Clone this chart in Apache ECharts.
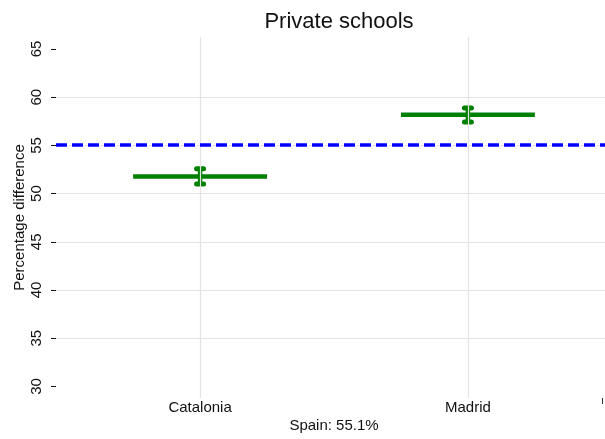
<!DOCTYPE html>
<html>
<head>
<meta charset="utf-8">
<script src="https://cdn.jsdelivr.net/npm/echarts@6/dist/echarts.min.js"></script>
<style>
  html, body { margin: 0; padding: 0; background: #ffffff; }
  #chart { width: 605px; height: 439px; }
</style>
</head>
<body>
<div id="chart"></div>
<script>
// Regions and their estimated share (point estimate with confidence bounds)
const regions = ['Catalonia', 'Madrid'];
const means = [51.78, 58.18];
const lower = [51.0, 57.43];
const upper = [52.58, 58.88];

// National reference value
const spainValue = 55.1;

// Axis ticks and grid lines
const yTicks = [30, 35, 40, 45, 50, 55, 60, 65];
const yGridLines = [35, 40, 45, 50, 55, 60];
const xPositions = [1, 2];
const xExtraTicks = [2.5];

const FONT = '"Liberation Sans", Arial, Helvetica, sans-serif';
const GREEN = '#008000';
const HALF_WIDTH = 0.25;

const ciData = regions.map((r, i) => [xPositions[i], means[i], lower[i], upper[i]]);

const chart = echarts.init(document.getElementById('chart'), null, { renderer: 'canvas' });

chart.setOption({
  animation: false,
  backgroundColor: '#ffffff',
  textStyle: { fontFamily: FONT },
  title: {
    text: 'Private schools',
    left: 334,
    textAlign: 'center',
    top: 6,
    textStyle: { fontFamily: FONT, fontSize: 22, fontWeight: 'normal', color: '#111' }
  },
  grid: { left: 56, top: 37, width: 556, height: 361, outerBoundsMode: 'none', containLabel: false },
  xAxis: {
    type: 'value',
    min: 0.462,
    max: 2.538,
    name: 'Spain: ' + spainValue + '%',
    nameLocation: 'middle',
    nameGap: 20,
    nameMoveOverlap: false,
    nameTextStyle: { fontFamily: FONT, fontSize: 15, color: '#111' },
    axisLine: { show: false },
    splitLine: { show: false },
    axisTick: {
      show: true,
      customValues: xExtraTicks,
      length: 6,
      lineStyle: { color: '#333', width: 1 }
    },
    axisLabel: {
      customValues: xPositions,
      formatter: (v) => regions[xPositions.indexOf(v)] || '',
      fontFamily: FONT,
      fontSize: 15,
      color: '#111',
      margin: 2
    }
  },
  yAxis: {
    type: 'value',
    min: 28.8,
    max: 66.24,
    name: 'Percentage difference',
    nameLocation: 'middle',
    nameGap: 29,
    nameMoveOverlap: false,
    nameTextStyle: { fontFamily: FONT, fontSize: 15, color: '#111' },
    axisLine: { show: false },
    splitLine: { show: false },
    axisTick: {
      show: true,
      customValues: yTicks,
      length: 5,
      lineStyle: { color: '#111', width: 1 }
    },
    axisLabel: {
      customValues: yTicks,
      rotate: 90,
      fontFamily: FONT,
      fontSize: 15,
      color: '#111',
      margin: 12
    }
  },
  series: [
    {
      // background grid lines
      type: 'line',
      data: [],
      silent: true,
      z: 1,
      markLine: {
        silent: true,
        symbol: 'none',
        label: { show: false },
        animation: false,
        lineStyle: { color: '#e3e3e3', width: 1.2, type: 'solid' },
        data: yGridLines.map(v => ({ yAxis: v }))
          .concat(xPositions.map(v => ({ xAxis: v })))
      }
    },
    {
      // national reference line
      type: 'line',
      data: [],
      silent: true,
      z: 2,
      markLine: {
        silent: true,
        symbol: 'none',
        label: { show: false },
        animation: false,
        lineStyle: { color: '#0000ff', width: 3.5, type: [11, 5] },
        data: [{ yAxis: spainValue }]
      }
    },
    {
      type: 'custom',
      z: 3,
      data: ciData,
      renderItem: function (params, api) {
        const x = api.value(0), m = api.value(1), lo = api.value(2), hi = api.value(3);
        const pL = api.coord([x - HALF_WIDTH, m]);
        const pR = api.coord([x + HALF_WIDTH, m]);
        const pTop = api.coord([x, hi]);
        const pBot = api.coord([x, lo]);
        const style = { stroke: GREEN, lineWidth: 5, lineCap: 'round' };
        const cap = 3.5;
        return {
          type: 'group',
          children: [
            { type: 'line', shape: { x1: pL[0], y1: pL[1], x2: pR[0], y2: pR[1] },
              style: { stroke: GREEN, lineWidth: 4.5, lineCap: 'butt' } },
            { type: 'line', shape: { x1: pTop[0], y1: pTop[1], x2: pBot[0], y2: pBot[1] },
              style: { stroke: GREEN, lineWidth: 4.5, lineCap: 'butt' } },
            { type: 'line', shape: { x1: pTop[0] - cap, y1: pTop[1], x2: pTop[0] + cap, y2: pTop[1] }, style },
            { type: 'line', shape: { x1: pBot[0] - cap, y1: pBot[1], x2: pBot[0] + cap, y2: pBot[1] }, style }
          ]
        };
      }
    }
  ]
});
</script>
</body>
</html>
